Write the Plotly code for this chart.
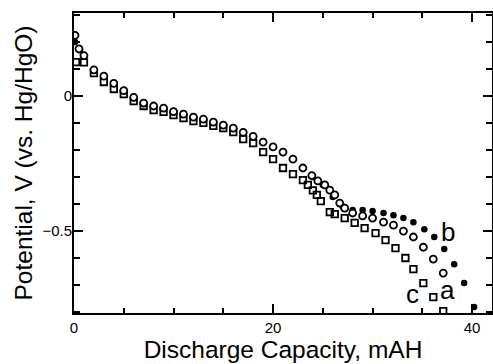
import plotly.graph_objects as go

# Series a (open circles)
a_x = [0.1, 0.5, 1.0, 2, 3, 4, 5, 6, 7, 8, 9, 10, 11, 12, 13, 14, 15, 16, 17, 18, 19, 20, 21, 22, 23,
       23.9, 24.5, 25.2, 25.7, 26.2, 26.7, 27.2, 28.0, 29.0, 30.0, 31.1, 32.1, 33.1, 34.1, 35.1, 36.1, 37.1]
a_y = [0.225, 0.175, 0.15, 0.097, 0.074, 0.047, 0.02, -0.005, -0.026, -0.037, -0.045, -0.058, -0.067,
       -0.078, -0.086, -0.097, -0.108, -0.119, -0.135, -0.150, -0.171, -0.189, -0.208, -0.234, -0.267,
       -0.295, -0.315, -0.330, -0.349, -0.367, -0.397, -0.416, -0.434, -0.445, -0.453, -0.468, -0.479,
       -0.501, -0.523, -0.561, -0.605, -0.657]

# Series b (filled circles)
b_x = [0.1, 0.6, 1.0, 2, 3, 4, 5, 6, 7, 8, 9, 10, 11, 12, 13, 14, 15, 16, 17, 18, 19, 20, 21, 22, 23,
       24, 25, 26, 27, 28.0, 29.0, 30.0, 31.1, 32.1, 33.1, 34.1, 35.2, 36.2, 37.2, 38.2, 39.2, 40.2]
b_y = [0.20, 0.17, 0.152, 0.099, 0.076, 0.049, 0.022, -0.003, -0.024, -0.035, -0.043, -0.056, -0.065,
       -0.076, -0.084, -0.095, -0.106, -0.117, -0.133, -0.148, -0.169, -0.187, -0.206, -0.232, -0.265,
       -0.30, -0.33, -0.375, -0.41, -0.423, -0.423, -0.427, -0.434, -0.442, -0.453, -0.468, -0.494,
       -0.523, -0.568, -0.624, -0.694, -0.783]

# Series c (open squares)
c_x = [0.2, 1.0, 2, 3, 4, 5, 6, 7, 8, 9, 10, 11, 12, 13, 14, 15, 16, 17, 18, 19, 20, 21, 22, 23,
       23.5, 24.0, 24.4, 24.8, 25.7, 26.2, 27.2, 28.2, 29.2, 30.3, 31.3, 32.3, 33.3, 34.1, 35.1, 36.1, 37.1]
c_y = [0.126, 0.125, 0.085, 0.052, 0.026, 0.007, -0.019, -0.037, -0.052, -0.059, -0.071, -0.082,
       -0.093, -0.100, -0.111, -0.119, -0.134, -0.160, -0.175, -0.208, -0.234, -0.267, -0.290, -0.312,
       -0.33, -0.35, -0.367, -0.39, -0.431, -0.438, -0.453, -0.471, -0.49, -0.509, -0.535, -0.564,
       -0.601, -0.642, -0.694, -0.746, -0.798]

series_labels = ["a", "b", "c"]
x_title = "Discharge Capacity, mAH"
y_title = "Potential, V (vs. Hg/HgO)"

FONT = "Liberation Sans, Arial, sans-serif"

fig = go.Figure()
fig.add_trace(go.Scatter(x=b_x, y=b_y, mode="markers", name="b",
                         marker=dict(symbol="circle", size=6.5, color="black")))
fig.add_trace(go.Scatter(x=c_x, y=c_y, mode="markers", name="c",
                         marker=dict(symbol="square-open", size=6.5, color="black", line=dict(width=1.8))))
fig.add_trace(go.Scatter(x=a_x, y=a_y, mode="markers", name="a",
                         marker=dict(symbol="circle", size=7, color="white",
                                     line=dict(width=1.8, color="black"))))

# series labels
label_pos = {"a": (37.5, -0.72), "b": (37.6, -0.505), "c": (34.0, -0.735)}
for lab in series_labels:
    lx, ly = label_pos[lab]
    fig.add_annotation(x=lx, y=ly, text=lab, showarrow=False,
                       font=dict(family=FONT, size=26, color="black"))

axis_common = dict(
    showline=True, linecolor="black", linewidth=2, mirror="ticks",
    ticks="inside", tickcolor="black", tickwidth=1.5, ticklen=9,
    showgrid=False, zeroline=False, automargin=False,
    tickfont=dict(family=FONT, size=15, color="black"),
    title_font=dict(family=FONT, size=24.5, color="black"),
)

fig.update_xaxes(range=[0, 42], tick0=0, dtick=20,
                 minor=dict(dtick=5, ticks="inside", ticklen=5, tickcolor="black", tickwidth=1.5),
                 title_text=x_title, title_standoff=3, **axis_common)
fig.update_yaxes(range=[-0.805, 0.308], tick0=0, dtick=0.5,
                 minor=dict(dtick=0.1, ticks="inside", ticklen=6, tickcolor="black", tickwidth=1.5),
                 title_text=y_title, title_standoff=3, ticklabelstandoff=-3, **axis_common)

fig.update_layout(
    width=493, height=364,
    margin=dict(l=74, r=1, t=13, b=51),
    plot_bgcolor="white", paper_bgcolor="white",
    showlegend=False,
)

fig.write_html("out.html")
